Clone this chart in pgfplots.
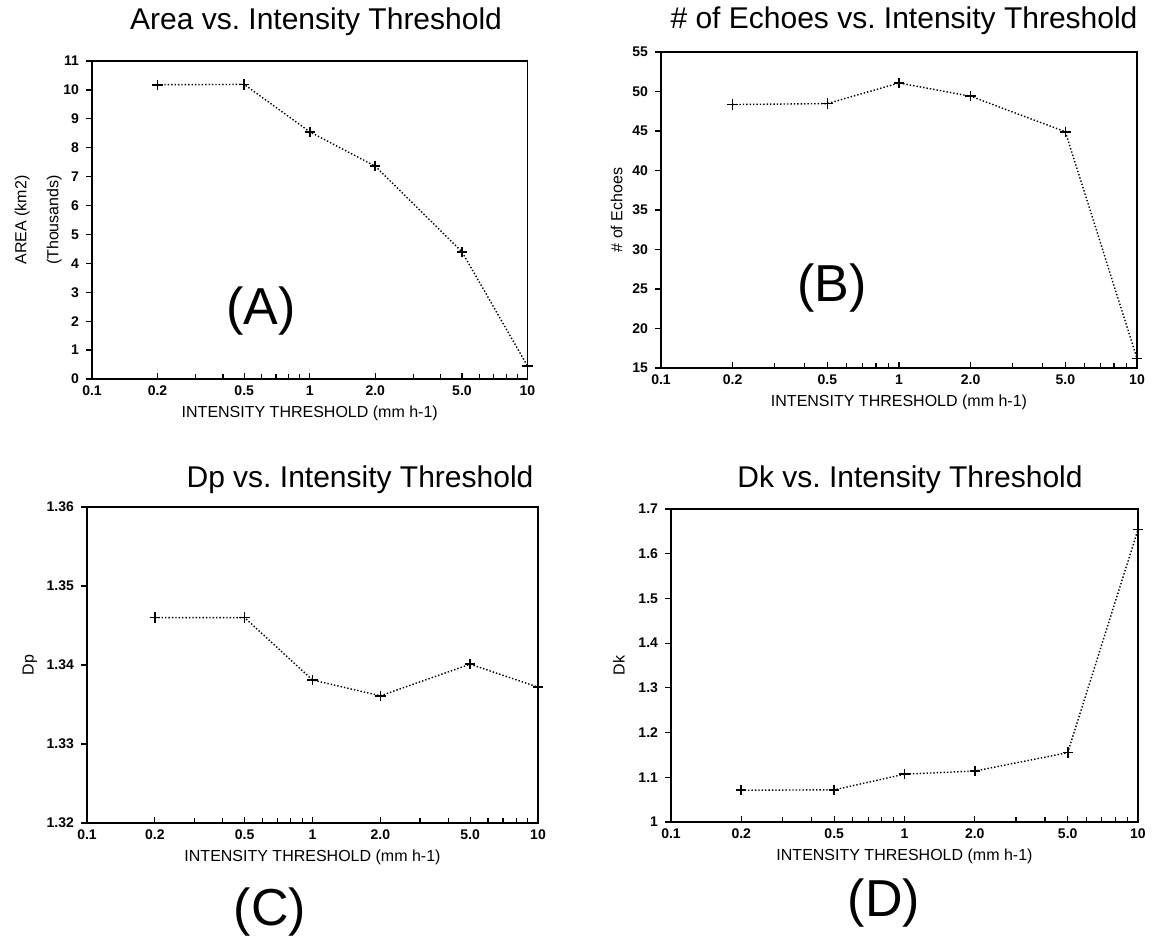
\documentclass[border=0pt]{standalone}
\usepackage{fontspec}
\setmainfont{Liberation Sans}
\usepackage{pgfplots}
\pgfplotsset{compat=1.18}

% one pixel of the 1152x940 reference = 0.5pt
\pgfplotsset{
  echopanel/.style={
    scale only axis, anchor=south west,
    xmin=0.1, xmax=10,
    xtick={0.1,0.2,0.5,1,2,5,10},
    xticklabels={0.1,0.2,0.5,1,2.0,5.0,10},
    minor xtick={0.3,0.4,0.6,0.7,0.8,0.9,3,4,6,7,8,9},
    xtick pos=bottom, ytick pos=left,
    xtick align=inside, ytick align=outside,
    major tick length=3pt, minor tick length=2.5pt,
    tick style={black, line width=0.6pt},
    axis line style={line width=0.7pt},
    ticklabel style={font=\bfseries\fontsize{7}{8}\selectfont},
    xlabel={INTENSITY THRESHOLD (mm h-1)},
    xlabel style={font=\fontsize{8}{9}\selectfont, yshift=2pt},
    ylabel style={font=\fontsize{8}{16}\selectfont, align=center},
  },
  echoline/.style={black, densely dotted, line width=0.7pt, mark=+, mark size=2.6pt,
    mark options={solid, line width=0.8pt}},
}
\newcommand\bigtag[1]{\fontsize{26}{30}\selectfont #1}
\newcommand\ttl[1]{\fontsize{15}{18}\selectfont #1}

\begin{document}
\begin{tikzpicture}
\path[use as bounding box] (0,0) rectangle (576pt,-470pt);

% (A) area
\begin{semilogxaxis}[echopanel, at={(0.5*92pt,-0.5*379pt)}, width=217.75pt, height=159pt,
  ymin=0, ymax=11, ytick={0,1,...,11},
  yticklabels={0,1,2,3,4,5,6,7,8,9,10,11},
  ylabel={AREA (km2)\\(Thousands)}, ylabel shift=-6pt]
\addplot[echoline] coordinates {(0.2,10.18) (0.5,10.19) (1,8.55) (2,7.36) (5,4.40) (10,0.45)};
\end{semilogxaxis}

% (B) number of echoes
\begin{semilogxaxis}[echopanel, at={(0.5*661pt,-0.5*368pt)}, width=238pt, height=158pt,
  ymin=15, ymax=55, ytick={15,20,...,55},
  yticklabels={15,20,25,30,35,40,45,50,55},
  ylabel={\# of Echoes}, ylabel shift=-2pt]
\addplot[echoline] coordinates {(0.2,48.35) (0.5,48.47) (1,51.08) (2,49.4) (5,44.9) (10,16.2)};
\end{semilogxaxis}

% (C) Dp
\begin{semilogxaxis}[echopanel, at={(0.5*87pt,-0.5*823pt)}, width=225.5pt, height=158pt,
  ymin=1.32, ymax=1.36, ytick={1.32,1.33,1.34,1.35,1.36},
  yticklabels={1.32,1.33,1.34,1.35,1.36},
  ylabel={Dp}, ylabel shift=-2pt]
\addplot[echoline] coordinates {(0.2,1.3460) (0.5,1.3460) (1,1.3381) (2,1.3361) (5,1.3401) (10,1.3372)};
\end{semilogxaxis}

% (D) Dk
\begin{semilogxaxis}[echopanel, at={(0.5*671pt,-0.5*822pt)}, width=233.5pt, height=156.5pt,
  ymin=1, ymax=1.7, ytick={1,1.1,1.2,1.3,1.4,1.5,1.6,1.7},
  yticklabels={1,1.1,1.2,1.3,1.4,1.5,1.6,1.7},
  ylabel={Dk}]
\addplot[echoline] coordinates {(0.2,1.071) (0.5,1.072) (1,1.107) (2,1.114) (5,1.155) (10,1.654)};
\end{semilogxaxis}

% titles
\node[anchor=base] at (0.5*316pt,-0.5*30pt) {\ttl{Area vs.\ Intensity Threshold}};
\node[anchor=base] at (0.5*904pt,-0.5*29pt) {\ttl{\# of Echoes vs.\ Intensity Threshold}};
\node[anchor=base] at (0.5*360pt,-0.5*488pt) {\ttl{Dp vs.\ Intensity Threshold}};
\node[anchor=base] at (0.5*910pt,-0.5*488pt) {\ttl{Dk vs.\ Intensity Threshold}};

% panel tags
\node at (0.5*261pt,-0.5*311pt) {\bigtag{(A)}};
\node at (0.5*832pt,-0.5*288pt) {\bigtag{(B)}};
\node at (0.5*270pt,-0.5*912pt) {\bigtag{(C)}};
\node at (0.5*884pt,-0.5*903pt) {\bigtag{(D)}};
\end{tikzpicture}
\end{document}
